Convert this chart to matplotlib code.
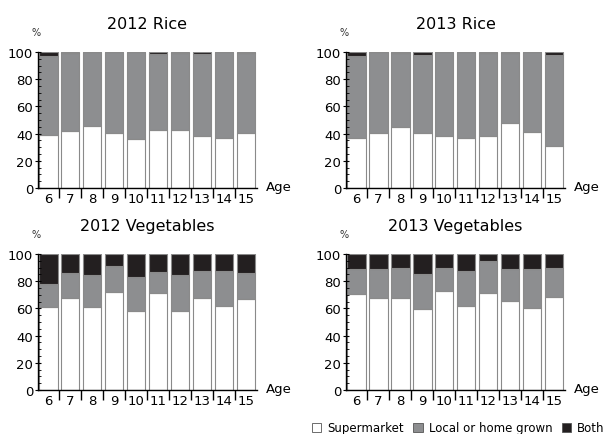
import matplotlib.pyplot as plt
import numpy as np
from matplotlib.ticker import MultipleLocator
from matplotlib.patches import Patch

ages = [6, 7, 8, 9, 10, 11, 12, 13, 14, 15]

# percentages per age: supermarket, both; local = remainder
rice12_sup = [39, 42, 45.5, 40.5, 36, 43, 42.5, 38.5, 36.5, 40.5]
rice12_both = [3, 0.5, 0, 0, 0, 1.5, 1, 1.5, 0, 1]
rice13_sup = [36.5, 40.5, 45, 40.5, 38.5, 36.5, 38, 48, 41, 31]
rice13_both = [3, 0, 1, 2.5, 0, 0, 1, 1, 0, 2]

veg12_sup = [61.3, 67.4, 61.3, 72.3, 58.3, 71.3, 58.3, 67.4, 62, 66.9]
veg12_local = [16.6, 18.6, 23.3, 18.6, 24.8, 15.2, 26.3, 20.1, 25.5, 18.9]
veg13_sup = [70.6, 67.4, 67.4, 59.3, 72.5, 61.5, 71.1, 65.2, 60.5, 68.6]
veg13_local = [18.1, 21.6, 22.6, 25.7, 17.2, 25.8, 23.8, 23.5, 28.2, 20.9]

c_sup = 'white'
c_loc = '#8d8e90'
c_both = '#231f20'
edge = '#8a8a8a'


def stacked(ax, title, sup, local, both):
    x = np.arange(len(ages))
    sup = np.asarray(sup, float)
    local = np.asarray(local, float)
    both = np.asarray(both, float)
    kw = dict(width=0.84, edgecolor=edge, linewidth=0.8)
    ax.bar(x, sup, color=c_sup, **kw)
    ax.bar(x, local, bottom=sup, color=c_loc, **kw)
    ax.bar(x, both, bottom=sup + local, color=c_both, **kw)
    ax.set_xlim(-0.47, 9.5)
    ax.set_ylim(0, 100)
    ax.spines['top'].set_visible(False)
    ax.spines['right'].set_visible(False)
    ax.spines['left'].set_linewidth(1.0)
    ax.spines['bottom'].set_linewidth(1.0)
    ax.yaxis.set_major_locator(MultipleLocator(20))
    ax.yaxis.set_minor_locator(MultipleLocator(5))
    ax.tick_params(axis='y', which='major', direction='inout', length=5, width=0.8,
                   labelsize=9.5, pad=1)
    ax.tick_params(axis='y', which='minor', direction='in', length=2, width=0.6)
    # ticks between bars, labels under bars
    ax.set_xticks(x[:-1] + 0.5)
    ax.set_xticklabels([])
    ax.set_xticks(x, minor=True)
    ax.set_xticklabels([str(a) for a in ages], minor=True)
    ax.tick_params(axis='x', which='major', direction='out', length=7, width=1.0)
    ax.tick_params(axis='x', which='minor', length=0, labelsize=9.5, pad=3)
    ax.set_title(title, fontsize=11.5, pad=17)
    ax.text(-0.01, 1.15, '%', transform=ax.transAxes, fontsize=7, ha='center',
            va='center', color='#333333')
    ax.text(1.04, 0.01, 'Age', transform=ax.transAxes, fontsize=9.5,
            ha='left', va='center')


fig = plt.figure(figsize=(6.12, 4.35), dpi=100)
w = 0.358
h = 0.3126
axes = [
    fig.add_axes([0.062, 0.5655, w, h]),
    fig.add_axes([0.5654, 0.5655, w, h]),
    fig.add_axes([0.062, 0.101, w, h]),
    fig.add_axes([0.5654, 0.101, w, h]),
]

r12_loc = 100 - np.array(rice12_sup) - np.array(rice12_both)
r13_loc = 100 - np.array(rice13_sup) - np.array(rice13_both)
v12_both = 100 - np.array(veg12_sup) - np.array(veg12_local)
v13_both = 100 - np.array(veg13_sup) - np.array(veg13_local)

stacked(axes[0], '2012 Rice', rice12_sup, r12_loc, rice12_both)
stacked(axes[1], '2013 Rice', rice13_sup, r13_loc, rice13_both)
stacked(axes[2], '2012 Vegetables', veg12_sup, veg12_local, v12_both)
stacked(axes[3], '2013 Vegetables', veg13_sup, veg13_local, v13_both)

handles = [Patch(facecolor=c_sup, edgecolor='#555555', linewidth=0.6, label='Supermarket'),
           Patch(facecolor=c_loc, edgecolor='#555555', linewidth=0.6, label='Local or home grown'),
           Patch(facecolor=c_both, edgecolor='#555555', linewidth=0.6, label='Both')]
fig.legend(handles=handles, loc='lower right', bbox_to_anchor=(1.005, -0.025), ncol=3,
           frameon=False, fontsize=8.5, handlelength=0.8, handleheight=0.8,
           handletextpad=0.5, columnspacing=0.8)

fig.savefig('out.png', dpi=100)
